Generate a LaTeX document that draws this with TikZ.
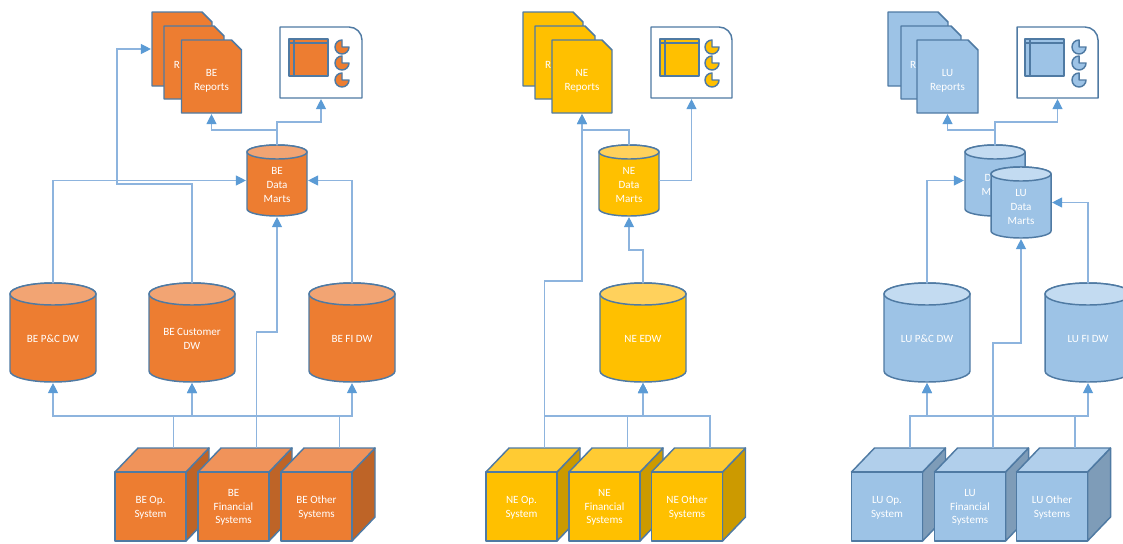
\documentclass[tikz,border=0pt]{standalone}
\usepackage{fontspec}
\setmainfont{Carlito}
\usetikzlibrary{arrows.meta}
\definecolor{bebody}{HTML}{ED7D31}\definecolor{betop}{HTML}{F2A473}\definecolor{becube}{HTML}{F0935A}\definecolor{beside}{HTML}{BE6427}
\definecolor{nebody}{HTML}{FFC000}\definecolor{netop}{HTML}{FFD15C}\definecolor{necube}{HTML}{FFCB33}\definecolor{neside}{HTML}{CC9A00}
\definecolor{lubody}{HTML}{9DC3E6}\definecolor{lutop}{HTML}{C3DBF1}\definecolor{lucube}{HTML}{B1CFEB}\definecolor{luside}{HTML}{7E9CB8}
\definecolor{edgeblue}{HTML}{4F7AA3}\definecolor{linkblue}{HTML}{8DB4DE}\definecolor{tipblue}{HTML}{5B9BD5}
\tikzset{
  shapeline/.style={draw=edgeblue,line width=1.1pt,line join=round},
  anchorbox/.style={inner sep=0pt,outer sep=0pt,draw=none},
  lbl/.style={text=white,align=center,inner sep=0pt,yshift=-0.75pt,font=\fontsize{8.3pt}{10.2pt}\selectfont},
  conn/.style={draw=linkblue,line width=0.85pt,shorten >=0.8pt,-{Triangle[length=7.5pt,width=7.5pt,color=tipblue,fill=tipblue]}},
}
% name, cx, top, w, h, ry, prefix, text
\newcommand\cylshape[8]{%
  \pgfmathsetmacro\xa{#2-#4/2}\pgfmathsetmacro\xb{#2+#4/2}%
  \pgfmathsetmacro\ya{#3+#6}\pgfmathsetmacro\yb{#3+#5-#6}%
  \pgfmathsetmacro\yc{#3+#5/2}\pgfmathsetmacro\yt{\yc+#6/2}%
  \filldraw[shapeline,fill=#7body] (\xa,\ya) -- (\xa,\yb)
    arc[start angle=180,end angle=360,x radius=#4*0.375pt,y radius=#6*0.75pt]
    -- (\xb,\ya) arc[start angle=0,end angle=180,x radius=#4*0.375pt,y radius=#6*0.75pt] -- cycle;
  \filldraw[shapeline,fill=#7top] (#2,\ya) ellipse[x radius=#4*0.375pt,y radius=#6*0.75pt];
  \node[anchorbox,minimum width=#4*0.75pt,minimum height=#5*0.75pt] (#1) at (#2,\yc) {};
  \node[lbl] (#1t) at (#2,\yt) {#8};
}
% name, cx, top, w, h, prefix
\newcommand\docshape[6]{%
  \pgfmathsetmacro\xa{#2-#4/2}\pgfmathsetmacro\xb{#2+#4/2}\pgfmathsetmacro\xc{\xb-10}%
  \pgfmathsetmacro\yb{#3+#5}\pgfmathsetmacro\yc{#3+#5/2}\pgfmathsetmacro\yd{#3+10}%
  \filldraw[shapeline,fill=#6body] (\xa,#3) -- (\xc,#3) -- (\xb,\yd) -- (\xb,\yb) -- (\xa,\yb) -- cycle;
  \node[anchorbox,minimum width=#4*0.75pt,minimum height=#5*0.75pt] (#1) at (#2,\yc) {};
}
% name, front cx, front top, w, h, prefix, text
\newcommand\cubeshape[7]{%
  \pgfmathsetmacro\xa{#2-#4/2}\pgfmathsetmacro\xb{#2+#4/2}\pgfmathsetmacro\xc{\xa+23}\pgfmathsetmacro\xd{\xb+23}%
  \pgfmathsetmacro\yb{#3+#5}\pgfmathsetmacro\yc{#3-24}\pgfmathsetmacro\yd{\yb-24}\pgfmathsetmacro\ym{#3+#5/2}\pgfmathsetmacro\xt{#2+23}%
  \filldraw[shapeline,fill=#6side] (\xb,#3) -- (\xd,\yc) -- (\xd,\yd) -- (\xb,\yb) -- cycle;
  \filldraw[shapeline,fill=#6cube] (\xa,#3) -- (\xc,\yc) -- (\xd,\yc) -- (\xb,#3) -- cycle;
  \filldraw[shapeline,fill=#6body] (\xa,#3) rectangle (\xb,\yb);
  \node[lbl] (#1) at (#2,\ym) {#7};
  \coordinate (#1top) at (\xt,\yc);
}
% name, left, top, w, h, table dx, pie dx, prefix
\newcommand\dashshape[8]{%
  \pgfmathsetmacro\xb{#2+#4}\pgfmathsetmacro\xc{\xb-13}\pgfmathsetmacro\yb{#3+#5}\pgfmathsetmacro\yd{#3+13}%
  \pgfmathsetmacro\xm{#2+#4/2}\pgfmathsetmacro\ym{#3+#5/2}%
  \filldraw[shapeline,fill=white] (#2,#3) -- (\xc,#3) arc[start angle=90,end angle=0,radius=9.75pt] -- (\xb,\yb) -- (#2,\yb) -- cycle;
  \node[anchorbox,minimum width=#4*0.75pt,minimum height=#5*0.75pt] (#1) at (\xm,\ym) {};
  \pgfmathsetmacro\ta{#2+#6}\pgfmathsetmacro\tb{\ta+39}\pgfmathsetmacro\tc{\ta+5}%
  \pgfmathsetmacro\ua{#3+12}\pgfmathsetmacro\ub{\ua+37}\pgfmathsetmacro\uc{\ua+4}%
  \filldraw[shapeline,fill=#8body] (\ta,\ua) rectangle (\tb,\ub);
  \draw[shapeline] (\ta,\uc) -- (\tb,\uc) (\tc,\ua) -- (\tc,\ub);
  \pgfmathsetmacro\px{#2+#7}%
  \foreach \dy in {20,36,53}{%
    \pgfmathsetmacro\py{#3+\dy}\pgfmathsetmacro\pt{\py-7}%
    \filldraw[shapeline,fill=#8body] (\px,\py) -- (\px,\pt) arc[start angle=90,end angle=360,radius=5.25pt] -- cycle;
  }%
}
\begin{document}
\begin{tikzpicture}[x=0.75pt,y=-0.75pt]
\useasboundingbox (0,0) rectangle (1123,543);
\clip (0,0) rectangle (1123,543);
% ---------- BE ----------
\docshape{bra}{182}{12}{60}{74}{be}
\docshape{brb}{194}{26}{60}{73}{be}
\node[lbl] (brbt) at (177,64) {R};
\docshape{brc}{211.5}{40}{60}{73}{be}
\node[lbl] (brct) at (211.5,80) {BE\\Reports};
\dashshape{bd}{280}{27}{82}{71}{9}{62}{be}
\cylshape{bm}{277}{145}{60}{71}{7}{be}{BE\\Data\\Marts}
\cylshape{bp}{53}{283}{86}{99}{11}{be}{BE P\&C DW}
\cylshape{bu}{192}{283}{86}{99}{11}{be}{BE Customer\\DW}
\cylshape{bf}{352}{283}{86}{99}{11}{be}{BE FI DW}
\cubeshape{ba}{150.5}{472}{71}{69}{be}{BE Op.\\System}
\cubeshape{bb}{233.5}{472}{71}{69}{be}{BE\\Financial\\Systems}
\cubeshape{bc}{316.5}{472}{71}{69}{be}{BE Other\\Systems}
\coordinate (bbus) at (0,416);
\coordinate (bjup) at (0,122);
\coordinate (bjdoc) at (0,130);
\coordinate (bjcu) at (117,184);
\coordinate (bjfin) at (257,332);
\draw[conn] (batop) -- (batop |- bbus) -| (bp.south);
\draw[conn] (batop) -- (batop |- bbus) -| (bu.south);
\draw[conn] (bctop) -- (bctop |- bbus) -| (bu.south);
\draw[conn] (bctop) -- (bctop |- bbus) -| (bf.south);
\draw[conn] (bbtop) |- (bjfin) -| (bm.south);
\draw[conn] (bp.north) |- (bm.west);
\draw[conn] (bf.north) |- (bm.east);
\draw[conn] (bu.north) |- (bjcu) |- (bra.west);
\draw[conn] (bm.north) -- (bm.north |- bjup) -| (bd.south);
\draw[conn] (bm.north) -- (bm.north |- bjdoc) -| (brc.south);
% ---------- NE ----------
\docshape{nra}{553}{12}{60}{74}{ne}
\docshape{nrb}{565}{26}{60}{73}{ne}
\node[lbl] (nrbt) at (548,64) {R};
\docshape{nrc}{582}{40}{60}{73}{ne}
\node[lbl] (nrct) at (582,80) {NE\\Reports};
\dashshape{nd}{651}{27}{81}{71}{9}{61}{ne}
\cylshape{nm}{629}{145}{60}{71}{7}{ne}{NE\\Data\\Marts}
\cylshape{ne}{643}{283}{86}{99}{11}{ne}{NE EDW}
\cubeshape{na}{521.5}{472}{71}{69}{ne}{NE Op.\\System}
\cubeshape{nb}{604.5}{472}{71}{69}{ne}{NE\\Financial\\Systems}
\cubeshape{nc}{687}{472}{71}{69}{ne}{NE Other\\Systems}
\coordinate (nbus) at (0,416);
\coordinate (njdoc) at (0,130);
\coordinate (njedw) at (0,250);
\coordinate (njop) at (0,281);
\draw[conn] (natop) -- (natop |- nbus) -| (ne.south);
\draw[conn] (nbtop) -- (nbtop |- nbus) -| (ne.south);
\draw[conn] (nctop) -- (nctop |- nbus) -| (ne.south);
\draw[conn] (natop) -- (natop |- njop) -| (nrc.south);
\draw[conn] (ne.north) -- (ne.north |- njedw) -| (nm.south);
\draw[conn] (nm.north) -- (nm.north |- njdoc) -| (nrc.south);
\draw[conn] (nm.east) -| (nd.south);
% ---------- LU ----------
\docshape{lra}{918}{12}{60}{74}{lu}
\docshape{lrb}{931}{26}{60}{73}{lu}
\node[lbl] (lrbt) at (913,64) {R};
\docshape{lrc}{947.5}{40}{61}{73}{lu}
\node[lbl] (lrct) at (947.5,80) {LU\\Reports};
\dashshape{ld}{1017}{27}{81}{71}{8}{62}{lu}
\cylshape{lm}{995}{145}{60}{71}{7}{lu}{Data\\Marts}
\cylshape{ln}{1021}{167}{60}{71}{7}{lu}{LU\\Data\\Marts}
\cylshape{lp}{927}{283}{86}{99}{11}{lu}{LU P\&C DW}
\cylshape{lf}{1088}{283}{86}{99}{11}{lu}{LU FI DW}
\cubeshape{la}{887}{472}{71}{69}{lu}{LU Op.\\System}
\cubeshape{lb}{970}{472}{71}{69}{lu}{LU\\Financial\\Systems}
\cubeshape{lc}{1052}{472}{71}{69}{lu}{LU Other\\Systems}
\coordinate (lbus) at (0,416);
\coordinate (ljup) at (0,122);
\coordinate (ljdoc) at (0,130);
\coordinate (ljfin) at (0,343);
\draw[conn] (latop) -- (latop |- lbus) -| (lp.south);
\draw[conn] (lctop) -- (lctop |- lbus) -| (lp.south);
\draw[conn] (lctop) -- (lctop |- lbus) -| (lf.south);
\draw[conn] (lbtop) -- (lbtop |- ljfin) -| (ln.south);
\draw[conn] (lp.north) |- (lm.west);
\draw[conn] (lf.north) |- (ln.east);
\draw[conn] (lm.north) -- (lm.north |- ljup) -| (ld.south);
\draw[conn] (lm.north) -- (lm.north |- ljdoc) -| (lrc.south);
\end{tikzpicture}
\end{document}
